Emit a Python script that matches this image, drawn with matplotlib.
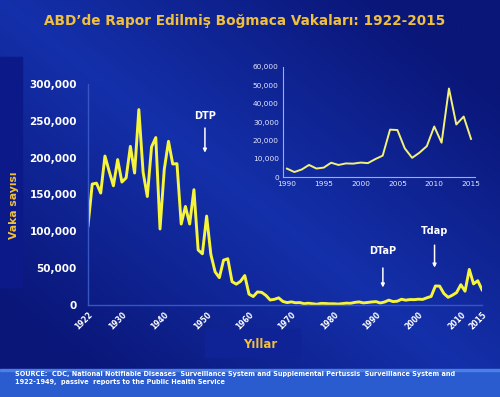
import numpy as np
import matplotlib.pyplot as plt
from matplotlib.patches import Rectangle
from matplotlib.colors import LinearSegmentedColormap

# Reported pertussis cases, USA
years = list(range(1922, 2016))
cases = [
    107473, 164191, 165418, 152003, 202210, 181411, 161799, 197371, 166914, 172559,
    215343, 179135, 265269, 180518, 147237, 214652, 227319, 103188, 183866, 222202,
    191383, 191890, 109873, 133792, 109860, 156517, 74715, 69479, 120718, 68687,
    45030, 37129, 60886, 62786, 31732, 28295, 32148, 40005, 14809, 11468,
    17749, 17135, 13005, 6799, 7717, 9718, 4810, 3285, 4249, 3036,
    3287, 1759, 2402, 1738, 1010, 2177, 2063, 1623, 1730, 1248,
    1895, 2463, 2276, 3589, 4195, 2823, 3450, 4157, 4570, 2719,
    4083, 6586, 4617, 5137, 7796, 6564, 7405, 7288, 7867, 7580,
    9771, 11647, 25827, 25616, 15632, 10454, 13278, 16858, 27550, 18719,
    48277, 28639, 32971, 20762,
]
main_ticks = [1922, 1930, 1940, 1950, 1960, 1970, 1980, 1990, 2000, 2010, 2015]
inset_ticks = [1990, 1995, 2000, 2005, 2010, 2015]
vaccines = ["DTP", "DTaP", "Tdap"]
vaccine_years = [1949.6, 1991.6, 2003.8]
label_y = [256000, 73000, 100000]
arrow_from = [244000, 54000, 85000]
arrow_to = [203000, 20000, 47000]

gold = "#f0c03c"
yellow = "#f6f53c"

fig = plt.figure(figsize=(5, 3.97), dpi=100)

# background gradient
bg = fig.add_axes([0, 0, 1, 1])
gx, gy = np.meshgrid(np.linspace(0, 1, 200), np.linspace(0, 1, 160))
grad = 1 - np.abs((gx + (1 - gy)) - 1.0) * 1.3
bg.imshow(np.clip(grad, 0, 1), cmap=LinearSegmentedColormap.from_list("bg", ["#0a1678", "#1430aa"]),
          aspect="auto", extent=[0, 1, 0, 1], origin="upper")
bg.set_xlim(0, 1)
bg.set_ylim(0, 1)
bg.axis("off")
# footer band
bg.add_patch(Rectangle((0, 0), 1, 26 / 397, color="#2a5cd0", zorder=2))
bg.add_patch(Rectangle((0, 26 / 397), 1, 2 / 397, color="#4a7fe4", zorder=2))
# darker boxes behind axis titles
bg.add_patch(Rectangle((0, 110 / 397), 22 / 500, 230 / 397, color="#0b1a88", zorder=2))
bg.add_patch(Rectangle((205 / 500, 40 / 397), 95 / 500, 28 / 397, color="#0f2296", zorder=2))

fig.text(0.49, 0.948, "ABD\u2019de Rapor Edilmiş Boğmaca Vakaları: 1922-2015",
         ha="center", va="center", color=gold, fontsize=9.8, fontweight="bold")
fig.text(0.028, 0.483, "Vaka sayısı", rotation=90, ha="center", va="center",
         color=gold, fontsize=7.8, fontweight="bold")
fig.text(0.52, 0.131, "Yıllar", ha="center", va="center",
         color=gold, fontsize=8.5, fontweight="bold")
fig.text(0.03, 0.047,
         "SOURCE:  CDC, National Notifiable Diseases  Surveillance System and Supplemental Pertussis  Surveillance System and\n"
         "1922-1949,  passive  reports to the Public Health Service",
         ha="left", va="center", color="white", fontsize=4.7, fontweight="bold", linespacing=1.35)

# main chart
ax = fig.add_axes([88 / 500, 92 / 397, 394 / 500, 221 / 397])
ax.patch.set_alpha(0)
ax.plot(years, cases, color=yellow, lw=2.1)
ax.set_xlim(1922, 2015)
ax.set_ylim(0, 300000)
ax.set_yticks(range(0, 300001, 50000))
ax.set_yticklabels([f"{v:,}" for v in range(0, 300001, 50000)])
ax.set_xticks(main_ticks)
ax.set_xticklabels([str(t) for t in main_ticks], rotation=45, ha="right", rotation_mode="anchor")
ax.tick_params(length=0, colors="white", labelsize=7.5, pad=8)
ax.tick_params(axis="x", labelsize=5.5, pad=4)
for lab in ax.get_xticklabels() + ax.get_yticklabels():
    lab.set_fontweight("bold")
for s in ["top", "right"]:
    ax.spines[s].set_visible(False)
for s in ["left", "bottom"]:
    ax.spines[s].set_color("#3556c4")
    ax.spines[s].set_linewidth(1)

for name, xv, ly, a0, a1 in zip(vaccines, vaccine_years, label_y, arrow_from, arrow_to):
    ax.annotate("", xy=(xv, a1), xytext=(xv, a0),
                arrowprops=dict(arrowstyle="-|>", color="white", lw=1.1, mutation_scale=5))
    ax.text(xv, ly, name, color="white", fontsize=7, fontweight="bold",
            ha="center", va="center")

# inset chart
ins = fig.add_axes([283 / 500, 220 / 397, 192 / 500, 110 / 397])
ins.patch.set_alpha(0)
sel = [i for i, y in enumerate(years) if y >= 1990]
ins.plot([years[i] for i in sel], [cases[i] for i in sel], color="#f2f27a", lw=1.4)
ins.set_xlim(1989.46, 2015.54)
ins.set_ylim(0, 60000)
ins.set_yticks(range(0, 60001, 10000))
ins.set_yticklabels([f"{v:,}" for v in range(0, 60001, 10000)])
ins.set_xticks(inset_ticks)
ins.tick_params(length=0, colors="#e4e8ff", labelsize=5.3, pad=3)
for s in ["top", "right"]:
    ins.spines[s].set_visible(False)
for s in ["left", "bottom"]:
    ins.spines[s].set_color("#9aaeee")
    ins.spines[s].set_linewidth(0.8)

fig.savefig("out.png", dpi=100)
